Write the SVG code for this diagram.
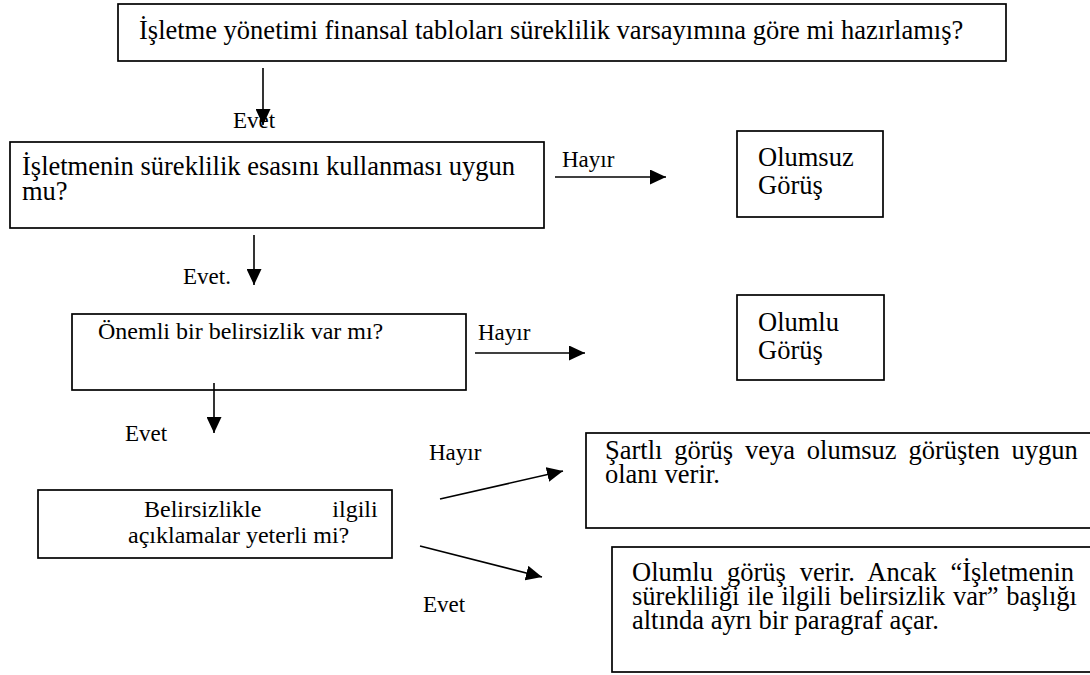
<svg xmlns="http://www.w3.org/2000/svg" width="1090" height="675" viewBox="0 0 1090 675">
<defs>
<marker id="ah" markerWidth="16" markerHeight="15" refX="16" refY="7.5" orient="auto" markerUnits="userSpaceOnUse">
<path d="M0,0 L16,7.5 L0,15 Z" fill="#000"/>
</marker>
</defs>
<style>
.box{fill:#fff;stroke:#000;stroke-width:1.7}
.t{font-family:"Liberation Serif","Times New Roman",serif;font-size:26.5px;fill:#000}
.s{font-family:"Liberation Serif","Times New Roman",serif;font-size:24px;fill:#000}
.l{font-family:"Liberation Serif","Times New Roman",serif;font-size:23px;fill:#000}
.c{stroke:#000;stroke-width:1.6;fill:none;marker-end:url(#ah)}
</style>
<rect width="1090" height="675" fill="#fff"/>
<g id="n1">
<rect class="box" x="118" y="4" width="888" height="57"/>
<text class="t" x="139" y="39">İşletme yönetimi finansal tabloları süreklilik varsayımına göre mi hazırlamış?</text>
</g>
<g id="n2">
<rect class="box" x="10" y="142" width="534" height="86"/>
<text class="t" x="22" y="175">İşletmenin süreklilik esasını kullanması uygun</text>
<text class="t" x="22" y="200">mu?</text>
</g>
<g id="n3">
<rect class="box" x="737" y="131" width="146" height="86"/>
<text class="t" x="758" y="166">Olumsuz</text>
<text class="t" x="758" y="194">Görüş</text>
</g>
<g id="n4">
<rect class="box" x="72" y="314" width="394" height="76"/>
<text class="s" x="98" y="339">Önemli bir belirsizlik var mı?</text>
</g>
<g id="n5">
<rect class="box" x="737" y="295" width="147" height="85"/>
<text class="t" x="758" y="331">Olumlu</text>
<text class="t" x="758" y="359">Görüş</text>
</g>
<g id="n6">
<rect class="box" x="38" y="490" width="354" height="68"/>
<text class="s" x="144" y="517" word-spacing="65">Belirsizlikle ilgili</text>
<text class="s" x="128" y="543">açıklamalar yeterli mi?</text>
</g>
<g id="n7">
<rect class="box" x="586" y="433" width="520" height="95"/>
<text class="t" x="605" y="459" word-spacing="5.2">Şartlı görüş veya olumsuz görüşten uygun</text>
<text class="t" x="605" y="483">olanı verir.</text>
</g>
<g id="n8">
<rect class="box" x="612" y="547" width="500" height="125"/>
<text class="t" x="632" y="581" word-spacing="7.3">Olumlu görüş verir. Ancak “İşletmenin</text>
<text class="t" x="632" y="605" word-spacing="1.1">sürekliliği ile ilgili belirsizlik var” başlığı</text>
<text class="t" x="632" y="629">altında ayrı bir paragraf açar.</text>
</g>
<g id="connectors">
<line class="c" x1="263" y1="68" x2="263" y2="125"/>
<line class="c" x1="555" y1="177" x2="666" y2="177"/>
<line class="c" x1="254" y1="235" x2="254" y2="285"/>
<line class="c" x1="475" y1="353" x2="585" y2="353"/>
<line class="c" x1="214" y1="383" x2="214" y2="433"/>
<line class="c" x1="440" y1="499" x2="563" y2="471"/>
<line class="c" x1="420" y1="546" x2="542" y2="577"/>
</g>
<g id="labels">
<text class="l" x="233" y="128">Evet</text>
<text class="l" x="562" y="167">Hayır</text>
<text class="l" x="183" y="284">Evet.</text>
<text class="l" x="478" y="340">Hayır</text>
<text class="l" x="125" y="441">Evet</text>
<text class="l" x="429" y="460">Hayır</text>
<text class="l" x="423" y="612">Evet</text>
</g>
</svg>
